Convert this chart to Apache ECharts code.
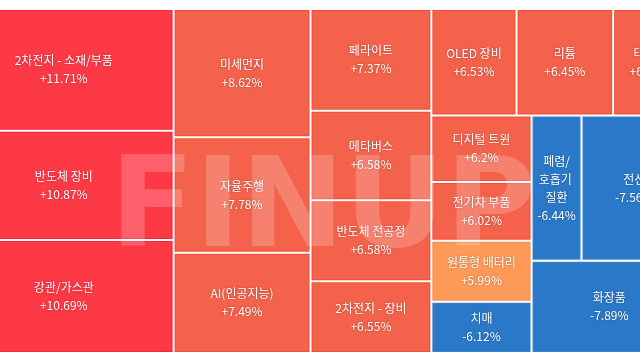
<!DOCTYPE html>
<html>
<head>
<meta charset="utf-8">
<script src="https://cdn.jsdelivr.net/npm/echarts@6/dist/echarts.min.js"></script>
<style>
  html, body { margin: 0; padding: 0; background: #ffffff; }
  #wrap { width: 640px; height: 360px; overflow: hidden; position: relative; }
  #chart { width: 640px; height: 360px; }
</style>
</head>
<body>
<div id="wrap"><div id="chart"></div></div>
<script>
// Theme names (categories)
const names = [
  '2차전지 - 소재/부품', '반도체 장비', '강관/가스관',
  '미세먼지', '자율주행', 'AI(인공지능)',
  '페라이트', '메타버스', '반도체 전공정', '2차전지 - 장비',
  'OLED 장비', '리튬', '태양광',
  '디지털 트윈', '전기차 부품', '원통형 배터리', '치매',
  '폐렴/호흡기 질환', '전선', '화장품'
];
// Relative size of each cell
const sizes = [
  265, 238, 246,
  174, 157, 136,
  122, 107, 97, 86,
  90, 102, 78,
  66, 58.5, 60.5, 51,
  72, 152, 142
];
// Daily change, percent
const changes = [
  11.71, 10.87, 10.69,
  8.62, 7.78, 7.49,
  7.37, 6.58, 6.58, 6.55,
  6.53, 6.45, 6.41,
  6.2, 6.02, 5.99, -6.12,
  -6.44, -7.56, -7.89
];

function fillFor(c) {
  if (c >= 10) return '#fd3946';
  if (c >= 6) return '#f4624b';
  if (c > 0) return '#fd9a57';
  return '#2a78c8';
}
function borderFor(c) {
  if (c >= 10) return '#fb2435';
  if (c >= 6) return '#f05039';
  if (c > 0) return '#fb8a47';
  return '#3884d0';
}
function fmt(c) {
  return (c > 0 ? '+' : '') + c + '%';
}

const data = names.map((n, i) => ({
  name: n,
  value: sizes[i],
  change: changes[i],
  itemStyle: { color: fillFor(changes[i]), borderColor: borderFor(changes[i]) }
}));

const chart = echarts.init(document.getElementById('chart'), null, { renderer: 'canvas' });
chart.setOption({
  backgroundColor: '#ffffff',
  animation: false,
  series: [{
    type: 'treemap',
    left: -45,
    top: 10,
    width: 731,
    height: 342,
    roam: false,
    nodeClick: false,
    sort: false,
    squareRatio: 1.45,
    breadcrumb: { show: false },
    upperLabel: { show: false },
    label: {
      show: true,
      position: 'inside',
      color: '#ffffff',
      fontFamily: '"Noto Sans CJK KR", "Noto Sans", sans-serif',
      fontSize: 12,
      lineHeight: 18,
      padding: [5, 3.5],
      align: 'center',
      verticalAlign: 'middle',
      overflow: 'break',
      textShadowColor: 'rgba(0,0,0,0.35)',
      textShadowBlur: 2,
      formatter: function (p) { return p.name + '\n' + fmt(p.data.change); }
    },
    levels: [
      { itemStyle: { borderWidth: 0, gapWidth: 2, borderColor: '#ffffff' } },
      { itemStyle: { borderWidth: 1, gapWidth: 0 } }
    ],
    data: data
  }],
  graphic: [{
    type: 'text',
    left: 110,
    top: 152,
    z: 100,
    silent: true,
    style: {
      text: 'FINUP',
      fontFamily: '"DejaVu Sans", sans-serif',
      fontWeight: 'bold',
      fontSize: 124,
      fill: 'rgba(255,255,255,0.2)'
    }
  }]
});
</script>
</body>
</html>
